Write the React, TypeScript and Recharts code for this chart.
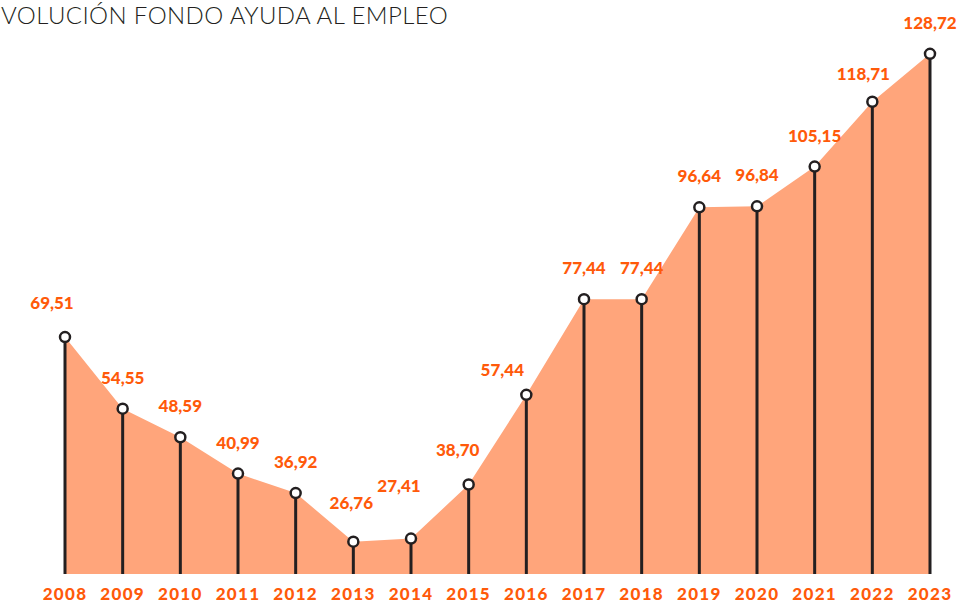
import React from 'react';
import { ComposedChart, Area, XAxis, YAxis, LabelList } from 'recharts';

const years = ['2008', '2009', '2010', '2011', '2012', '2013', '2014', '2015', '2016', '2017', '2018', '2019', '2020', '2021', '2022', '2023'];
const fondo = [69.51, 54.55, 48.59, 40.99, 36.92, 26.76, 27.41, 38.7, 57.44, 77.44, 77.44, 96.64, 96.84, 105.15, 118.71, 128.72];

const data = years.map((year, i) => ({ year, value: fondo[i] }));

const W = 957;
const H = 604;
const MARGIN = { top: 19, right: 27, bottom: 0, left: 65 };
const AXIS_H = 30;
const PLOT_BOTTOM = H - MARGIN.bottom - AXIS_H;

const ORANGE = '#FF5A0A';
const FILL = '#FFA57B';
const INK = '#231F20';

// small label nudges so labels sit like in the original
const labelNudge: Record<string, [number, number]> = {
    '2008': [-13, -3],
    '2013': [-2, -8],
    '2014': [-12, -22],
    '2015': [-11, -4],
    '2016': [-24, 6],
    '2022': [-9, 3],
};

const fmt = (v: number) => v.toFixed(2).replace('.', ',');

const StemDot = (props: any) => {
    const { cx, cy, index } = props;
    if (cx == null || cy == null) return null;
    return (
        <g key={`dot-${index}`}>
            <line x1={cx} y1={cy} x2={cx} y2={PLOT_BOTTOM} stroke={INK} strokeWidth={3} />
            <circle cx={cx} cy={cy} r={5} fill="#fff" stroke={INK} strokeWidth={2.5} />
        </g>
    );
};

const ValueLabel = (props: any) => {
    const { x, y, value, index } = props;
    const [dx, dy] = labelNudge[years[index]] || [0, 0];
    return (
        <text
            x={x + dx}
            y={y - 25 + dy}
            textAnchor="middle"
            fill={ORANGE}
            fontFamily="Lato"
            fontWeight={900}
            fontSize={17}
        >
            {fmt(value)}
        </text>
    );
};

export default function App() {
    return (
        <div style={{ position: 'absolute', left: 0, top: 0, width: W, height: H, background: '#fff', overflow: 'hidden' }}>
            <ComposedChart width={W} height={H} data={data} margin={MARGIN}>
                <text x={1} y={24} fontFamily="Lato" fontWeight={300} fontSize={24} letterSpacing={0.4} fill={INK}>
                    VOLUCIÓN FONDO AYUDA AL EMPLEO
                </text>
                <XAxis
                    dataKey="year"
                    axisLine={false}
                    tickLine={false}
                    height={AXIS_H}
                    interval={0}
                    tick={{ fill: ORANGE, fontFamily: 'Lato', fontWeight: 900, fontSize: 17, letterSpacing: 1.3 }}
                    dy={6}
                />
                <YAxis hide domain={[20, 136]} />
                <Area
                    type="linear"
                    dataKey="value"
                    stroke="none"
                    fill={FILL}
                    fillOpacity={1}
                    baseValue="dataMin"
                    dot={<StemDot />}
                    activeDot={false}
                    isAnimationActive={false}
                >
                    <LabelList dataKey="value" content={<ValueLabel />} />
                </Area>
            </ComposedChart>
        </div>
    );
}
